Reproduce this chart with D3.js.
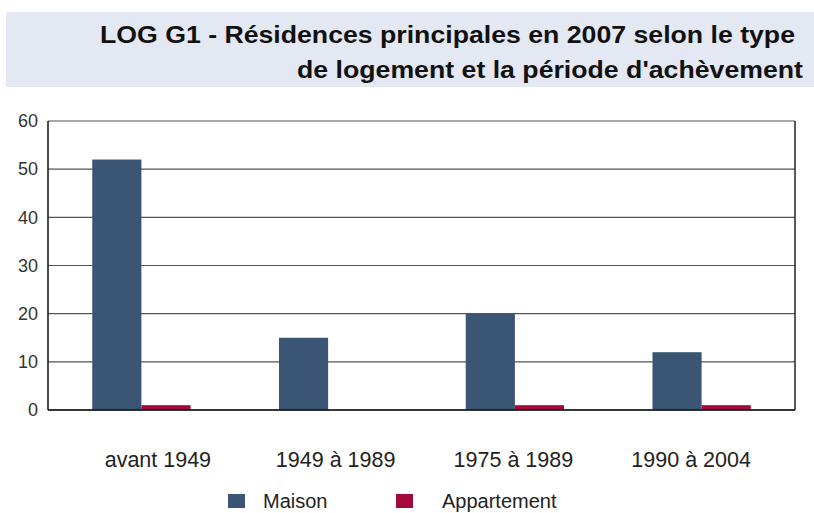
<!DOCTYPE html>
<html><head><meta charset="utf-8">
<script src="https://cdn.jsdelivr.net/npm/d3@7"></script>
<style>body{margin:0;background:#fff}svg{display:block;font-family:"Liberation Sans",Arial,sans-serif}</style>
</head><body><svg id="c" width="814" height="513"></svg>
<script>
const categories = ["avant 1949", "1949 à 1989", "1975 à 1989", "1990 à 2004"];
const seriesNames = ["Maison", "Appartement"];
const maison = [52, 15, 20, 12];
const appartement = [1, 0, 1, 1];
const yTicks = [0, 10, 20, 30, 40, 50, 60];
const colors = ["#3b5574", "#a3093a"];
const titleLines = ["LOG G1 - Résidences principales en 2007 selon le type", "de logement et la période d'achèvement"];

const svg = d3.select("#c");
const m = {l: 48, r: 795, t: 121, b: 410};

svg.append("rect").attr("x", 6).attr("y", 12).attr("width", 808).attr("height", 75).attr("fill", "#e3e8f2");
const tl = [{x0: 100, x1: 795, y: 43}, {x0: 297, x1: 803, y: 78}];
svg.selectAll("text.t").data(titleLines).join("text").attr("class", "t")
  .attr("x", (d, i) => tl[i].x0).attr("y", (d, i) => tl[i].y)
  .attr("textLength", (d, i) => tl[i].x1 - tl[i].x0).attr("lengthAdjust", "spacingAndGlyphs")
  .attr("font-size", 24).attr("font-weight", "bold").attr("fill", "#111").text(d => d);

const x0 = d3.scaleBand().domain(categories).range([m.l, m.r]);
const x1 = d3.scaleBand().domain(seriesNames).range([0, x0.bandwidth()]).paddingOuter(0.9).paddingInner(0);
const xl = d3.scaleBand().domain(categories).range([69, 780]);
const y = d3.scaleLinear().domain([0, 60]).range([m.b, m.t]);

svg.append("g").selectAll("line").data(yTicks).join("line")
  .attr("x1", m.l).attr("x2", m.r).attr("y1", d => y(d)).attr("y2", d => y(d))
  .attr("stroke", "#555").attr("stroke-width", 1.2);
svg.append("line").attr("x1", m.r).attr("x2", m.r).attr("y1", m.t).attr("y2", m.b).attr("stroke", "#222").attr("stroke-width", 1.5);

const data = [maison, appartement];
data.forEach((vals, s) => {
  svg.append("g").selectAll("rect").data(vals).join("rect")
    .attr("x", (d, i) => x0(categories[i]) + x1(seriesNames[s]))
    .attr("width", x1.bandwidth())
    .attr("y", d => y(d)).attr("height", d => y(0) - y(d))
    .attr("fill", colors[s]);
});

svg.append("line").attr("x1", m.l).attr("x2", m.r).attr("y1", m.b).attr("y2", m.b).attr("stroke", "#111").attr("stroke-width", 1.5);
svg.append("line").attr("x1", m.l).attr("x2", m.l).attr("y1", m.t).attr("y2", m.b).attr("stroke", "#111").attr("stroke-width", 1.5);

const yAxis = d3.axisLeft(y).tickValues(yTicks).tickSize(0).tickPadding(10);
const ga = svg.append("g").attr("transform", `translate(${m.l},0)`).call(yAxis);
ga.select(".domain").remove();
ga.selectAll("text").attr("font-size", 18).attr("fill", "#333").attr("font-family", "Liberation Sans, Arial, sans-serif");

const xAxis = d3.axisBottom(xl).tickSize(0).tickPadding(0);
const gx = svg.append("g").attr("transform", `translate(0,452)`).call(xAxis);
gx.select(".domain").remove();
gx.selectAll("text").attr("font-size", 21.5).attr("fill", "#222").attr("font-family", "Liberation Sans, Arial, sans-serif");

const legX = [228, 396];
seriesNames.forEach((n, i) => {
  svg.append("rect").attr("x", legX[i]).attr("y", 494).attr("width", 17).attr("height", 14).attr("fill", colors[i]);
  svg.append("text").attr("x", legX[i] + 35 + i * 11).attr("y", 508).attr("font-size", 20).attr("fill", "#222").text(n);
});
</script></body></html>
